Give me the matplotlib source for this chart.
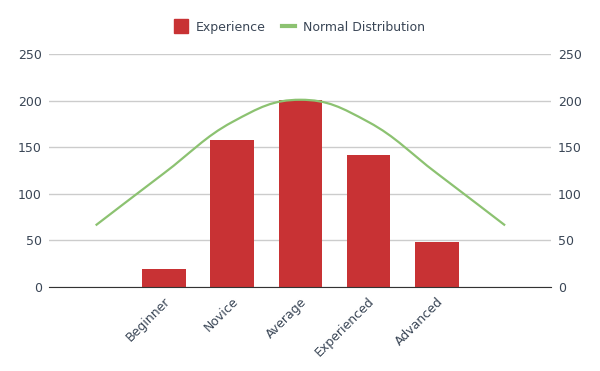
import numpy as np
import matplotlib
matplotlib.use("Agg")
import matplotlib.pyplot as plt
from matplotlib.path import Path
from matplotlib.patches import PathPatch
from matplotlib.lines import Line2D
from matplotlib.transforms import offset_copy

# data
categories = ["", "Beginner", "Novice", "Average", "Experienced", "Advanced", ""]
experience = [0, 19, 158, 201, 142, 48, 0]
normal_dist = [66, 122, 177, 201, 177, 122, 66]
y_ticks = [0, 50, 100, 150, 200, 250]

BAR_RED = "#C83234"
LINE_GREEN = "#8CC271"
TEXT = "#3A4656"
GRID = "#CCCCCC"


def smooth_path(xs, ys, k=0.2):
    """Cubic bezier path through the points (like a 'function' curve)."""
    xs = np.asarray(xs, float)
    ys = np.asarray(ys, float)
    verts = [(xs[0], ys[0])]
    codes = [Path.MOVETO]
    n = len(xs)
    for i in range(n - 1):
        p0 = max(i - 1, 0)
        p3 = min(i + 2, n - 1)
        c1 = (xs[i] + k * (xs[i + 1] - xs[p0]), ys[i] + k * (ys[i + 1] - ys[p0]))
        c2 = (xs[i + 1] - k * (xs[p3] - xs[i]), ys[i + 1] - k * (ys[p3] - ys[i]))
        verts += [c1, c2, (xs[i + 1], ys[i + 1])]
        codes += [Path.CURVE4] * 3
    return Path(verts, codes)


fig = plt.figure(figsize=(6.0, 3.71), dpi=100)
ax = fig.add_axes([0.081, 0.227, 0.837, 0.627])

x = np.arange(len(categories))
bar_vals = [v if c else 0 for c, v in zip(categories, experience)]
ax.bar(x, bar_vals, width=0.64, color=BAR_RED, zorder=2)

curve = PathPatch(smooth_path(x, normal_dist), fill=False,
                  edgecolor=LINE_GREEN, linewidth=1.6, zorder=3)
ax.add_patch(curve)

ax.set_xlim(-0.69, len(categories) - 1 + 0.67)
ax.set_ylim(0, 250)
ax.set_yticks(y_ticks)
ax.grid(axis="y", color=GRID, linewidth=1, zorder=0)
ax.tick_params(axis="y", length=0, labelsize=9, labelcolor=TEXT, pad=5,
               labelleft=True, labelright=True)
for s in ["top", "left", "right"]:
    ax.spines[s].set_visible(False)
ax.spines["bottom"].set_color("#333333")
ax.spines["bottom"].set_zorder(4)

ax.set_xticks(x)
ax.set_xticklabels([])
ax.tick_params(axis="x", length=0)
lab_tr = offset_copy(ax.get_xaxis_transform(), fig=fig, x=4, y=-13, units="dots")
for xi, name in zip(x, categories):
    if name:
        ax.text(xi, 0, name, transform=lab_tr, rotation=45, rotation_mode="anchor",
                ha="right", va="center", fontsize=9, color=TEXT)

handles = [
    Line2D([], [], marker="s", linestyle="none", markersize=10,
           markerfacecolor=BAR_RED, markeredgecolor=BAR_RED),
    Line2D([], [], color=LINE_GREEN, linewidth=3),
]
fig.legend(handles, ["Experience", "Normal Distribution"], loc="center",
           bbox_to_anchor=(0.5, 0.927), ncol=2, frameon=False, fontsize=9,
           labelcolor=TEXT, handlelength=1.0, handletextpad=0.7, columnspacing=1.3)

fig.savefig("out.png", dpi=100)
